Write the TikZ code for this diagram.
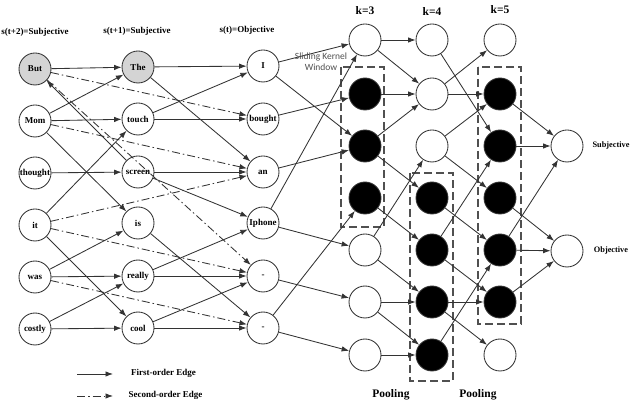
\documentclass[tikz,border=0pt]{standalone}
\usepackage{fontspec}
\setmainfont{Liberation Serif}
\newfontfamily\sansf{Carlito}
\usetikzlibrary{arrows.meta}
\definecolor{lc}{HTML}{333333}
\definecolor{dc}{HTML}{505050}
\definecolor{gf}{HTML}{D4D4D4}
\definecolor{tc}{HTML}{505050}
\tikzset{
  nd/.style={circle, draw=lc, line width=0.85pt, minimum size=32pt, inner sep=0pt},
  wn/.style={nd, label={[font=\bfseries\fontsize{9}{9}\selectfont]center:#1}},
  fl/.style={nd, fill=black},
  fo/.style={draw=lc, line width=0.85pt, -{Latex[length=7.5pt,width=5.5pt]}},
  so/.style={fo, dash pattern=on 8pt off 3pt on 1.5pt off 3pt},
  dbox/.style={draw=dc, line width=1.4pt, dash pattern=on 8pt off 4pt},
  tl/.style={font=\bfseries\fontsize{9}{10}\selectfont},
  kl/.style={font=\bfseries\fontsize{11.5}{12}\selectfont},
}
\begin{document}
\begin{tikzpicture}[x=1pt,y=-1pt]
\path[use as bounding box] (0,0) rectangle (633,403);

% column titles
\node[tl] (t1) at (35,32) {s(t+2)=Subjective};
\node[tl] (t2) at (137,31) {s(t+1)=Subjective};
\node[tl] (t3) at (247,30) {s(t)=Objective};

% column 1
\node[wn=But, fill=gf] (w1) at (35,69) {};
\node[wn=Mom] (w2) at (35,121) {};
\node[wn=thought] (w3) at (35,173) {};
\node[wn=it] (w4) at (35,225) {};
\node[wn=was] (w5) at (35,277) {};
\node[wn=costly] (w6) at (35,329) {};
% column 2
\node[wn=The, fill=gf] (v1) at (138,67) {};
\node[wn=touch] (v2) at (138,119) {};
\node[wn=screen] (v3) at (138,172) {};
\node[wn=is] (v4) at (138,223) {};
\node[wn=really] (v5) at (138,276) {};
\node[wn=cool] (v6) at (138,328) {};
% column 3
\node[wn=I] (c1) at (263,66) {};
\node[wn=bought] (c2) at (263,119) {};
\node[wn=an] (c3) at (263,172) {};
\node[wn=Iphone] (c4) at (263,223) {};
\node[wn={-}] (c5) at (263,276) {};
\node[wn={-}] (c6) at (263,328) {};

% k=3
\node[nd] (a1) at (365,40) {};
\node[fl] (a2) at (365,94) {};
\node[fl] (a3) at (365,146) {};
\node[fl] (a4) at (365,198) {};
\node[nd] (a5) at (365,250) {};
\node[nd] (a6) at (365,302) {};
\node[nd] (a7) at (365,355) {};
% k=4
\node[nd] (b1) at (432,40) {};
\node[nd] (b2) at (432,94) {};
\node[nd] (b3) at (432,146) {};
\node[fl] (b4) at (432,198) {};
\node[fl] (b5) at (432,250) {};
\node[fl] (b6) at (432,302) {};
\node[fl] (b7) at (432,355) {};
% k=5
\node[nd] (d1) at (500,40) {};
\node[fl] (d2) at (500,94) {};
\node[fl] (d3) at (500,146) {};
\node[fl] (d4) at (500,198) {};
\node[fl] (d5) at (500,250) {};
\node[fl] (d6) at (500,302) {};
\node[nd] (d7) at (500,355) {};
% outputs
\node[nd] (o1) at (567,146) {};
\node[nd] (o2) at (567,251) {};
\node[font=\bfseries\fontsize{8.3}{9}\selectfont] (ol1) at (611,146) {Subjective};
\node[font=\bfseries\fontsize{8.3}{9}\selectfont] (ol2) at (611,251) {Objective};

% k labels
\node[kl] (k3) at (365,11) {k=3};
\node[kl] (k4) at (432,12) {k=4};
\node[kl] (k5) at (500,10) {k=5};
\node[kl] (p1) at (391,395) {Pooling};
\node[kl] (p2) at (478,395) {Pooling};

% dashed boxes
\draw[dbox] (341,67) rectangle (384,227);
\draw[dbox] (410,173) rectangle (453,381);
\draw[dbox] (478,67) rectangle (521,324);

% first-order edges col1 -> col2
\draw[fo] (w1) -- (v1);
\draw[fo] (w2) -- (v1);
\draw[fo] (w2) -- (v2);
\draw[fo] (w2) -- (v4);
\draw[fo] (w3) -- (v3);
\draw[fo] (v3) -- (w1);
\draw[fo] (w4) -- (v2);
\draw[fo] (w4) -- (v6);
\draw[fo] (w5) -- (v4);
\draw[fo] (w5) -- (v5);
\draw[fo] (w6) -- (v5);
\draw[fo] (w6) -- (v6);
% first-order edges col2 -> col3
\draw[fo] (v1) -- (c1);
\draw[fo] (v1) -- (c3);
\draw[fo] (v2) -- (c1);
\draw[fo] (v2) -- (c2);
\draw[fo] (v3) -- (c3);
\draw[fo] (v3) -- (c4);
\draw[fo] (v4) -- (c6);
\draw[fo] (v5) -- (c4);
\draw[fo] (v5) -- (c5);
\draw[fo] (v6) -- (c5);
\draw[fo] (v6) -- (c6);
% second-order edges
\draw[so] (w1) -- (c2);
\draw[so] (w1) -- (c5);
\draw[so] (w2) -- (c3);
\draw[so] (w4) -- (c3);
\draw[so] (w4) -- (c5);
\draw[so] (w5) -- (c6);

% col3 -> k=3
\draw[fo] (c1) -- (a1);
\draw[fo] (c1) -- (a3);
\draw[fo] (c2) -- (a2);
\draw[fo] (c3) -- (a3);
\draw[fo] (c4) -- (a1);
\draw[fo] (c4) -- (a5);
\draw[fo] (c5) -- (a6);
\draw[fo] (c6) -- (a4);
\draw[fo] (c6) -- (a7);
% k=3 -> k=4
\draw[fo] (a1) -- (b1);
\draw[fo] (a1) -- (b2);
\draw[fo] (a2) -- (b2);
\draw[fo] (a3) -- (b2);
\draw[fo] (a3) -- (b4);
\draw[fo] (a4) -- (b5);
\draw[fo] (a5) -- (b3);
\draw[fo] (a5) -- (b6);
\draw[fo] (a6) -- (b6);
\draw[fo] (a6) -- (b7);
\draw[fo] (a7) -- (b7);
% k=4 -> k=5
\draw[fo] (b1) -- (d3);
\draw[fo] (b2) -- (d1);
\draw[fo] (b2) -- (d2);
\draw[fo] (b3) -- (d2);
\draw[fo] (b3) -- (d4);
\draw[fo] (b4) -- (d5);
\draw[fo] (b5) -- (d3);
\draw[fo] (b5) -- (d6);
\draw[fo] (b6) -- (d6);
\draw[fo] (b6) -- (d7);
\draw[fo] (b7) -- (d5);
% k=5 -> outputs
\draw[fo] (d2) -- (o1);
\draw[fo] (d3) -- (o1);
\draw[fo] (d5) -- (o1);
\draw[fo] (d4) -- (o2);
\draw[fo] (d5) -- (o2);
\draw[fo] (d6) -- (o2);

% sliding kernel window label
\node[font=\sansf\fontsize{9.5}{11}\selectfont, text=tc, align=center] (sk) at (321,62) {Sliding Kernel\\Window};

% legend
\coordinate (l1a) at (77,374);
\coordinate (l1b) at (113,374);
\coordinate (l2a) at (77,396);
\coordinate (l2b) at (113,396);
\draw[fo] (l1a) -- (l1b);
\draw[so] (l2a) -- (l2b);
\node[tl] (lt1) at (163.5,373) {First-order Edge};
\node[tl] (lt2) at (165.5,395) {Second-order Edge};
\end{tikzpicture}
\end{document}
